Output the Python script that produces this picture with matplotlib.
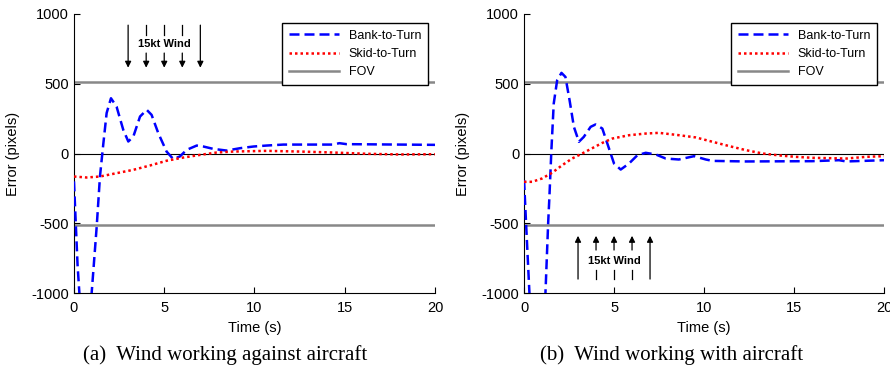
import matplotlib as mpl

mpl.use("Agg")

import matplotlib.pyplot as plt

plt.rcParams["font.family"] = ["Liberation Sans", "DejaVu Sans"]
plt.rcParams["axes.unicode_minus"] = False

# (a) wind working against aircraft
t_bank_a = [0.0, 0.1, 0.2, 0.3, 0.6, 0.98, 1.26, 1.44, 1.63, 1.81, 2.05, 2.36, 2.73, 3.01,
            3.29, 3.66, 4.03, 4.30, 4.67, 5.13, 5.50, 5.87, 6.24, 6.80, 7.17, 7.72, 8.46,
            9.2, 9.94, 10.67, 11.6, 14.37, 14.7, 15.1, 20.0]
bank_a = [-200, -500, -800, -1000, -1200, -1000, -523, -165, 74, 290, 396, 336, 170, 86,
          122, 265, 313, 277, 146, 14, -40, -21, 26, 57, 50, 33, 21,
          38, 50, 57, 64, 64, 74, 67, 62]
t_skid_a = [0.0, 0.7, 1.44, 2.36, 3.29, 4.21, 5.13, 6.06, 6.98, 7.9, 8.83, 10.67, 12.5,
            14.37, 16.2, 18.06, 20.0]
skid_a = [-165, -172, -165, -141, -117, -86, -52, -29, -10, 7, 14, 19, 14,
          7, -2, -7, -5]

# (b) wind working with aircraft
t_bank_b = [0.0, 0.15, 0.3, 0.7, 1.19, 1.34, 1.41, 1.52, 1.65, 1.84, 2.08, 2.30, 2.53, 2.77,
            3.05, 3.32, 3.70, 3.97, 4.35, 4.72, 5.0, 5.37, 5.83, 6.30, 6.76, 7.32, 7.87,
            8.6, 9.45, 10.1, 10.47, 12.33, 16.0, 17.5, 17.9, 20.0]
bank_b = [-190, -600, -1000, -1200, -1000, -500, -310, 24, 358, 525, 578, 549, 382, 191,
          84, 119, 191, 208, 179, 36, -72, -115, -72, -12, 5, -7, -36,
          -43, -19, -43, -53, -57, -55, -48, -57, -48]
t_skid_b = [0.0, 0.45, 1.0, 1.56, 2.12, 2.67, 3.23, 3.79, 4.35, 4.9, 5.83, 6.76, 7.5,
            8.62, 9.55, 10.47, 11.4, 12.33, 13.26, 14.19, 15.1, 16.04, 17.9, 19.0, 20.0]
skid_b = [-203, -203, -179, -138, -84, -36, 0, 38, 76, 107, 131, 143, 148,
          131, 115, 84, 53, 24, 0, -14, -24, -31, -36, -24, -19]

fov = 515
wind_times = [3, 4, 5, 6, 7]
x_ticks = [0, 5, 10, 15, 20]
y_ticks = [-1000, -500, 0, 500, 1000]


def draw_wind(ax, down):
    if down:
        top, tick_end, seg_start, head, text_y = 920, 850, 720, 615, 785
    else:
        top, tick_end, seg_start, head, text_y = -900, -835, -692, -590, -770
    for i, t in enumerate(wind_times):
        long = i in (0, len(wind_times) - 1)
        start = top if long else seg_start
        if not long:
            ax.plot([t, t], [top, tick_end], color="black", lw=0.9)
        ax.annotate("", xy=(t, head), xytext=(t, start),
                    arrowprops=dict(arrowstyle="-|>", lw=0.9, color="black",
                                    mutation_scale=9, shrinkA=0, shrinkB=0))
    ax.text(5, text_y, "15kt Wind", fontsize=8, fontweight="bold",
            ha="center", va="center")


def draw_panel(ax, t_bank, bank, t_skid, skid, down):
    ax.axhline(0, color="black", lw=0.8, zorder=1)
    ax.plot(t_bank, bank, color="#0000ff", ls=(0, (4, 2)), lw=1.8, label="Bank-to-Turn", zorder=3)
    ax.plot(t_skid, skid, color="#ff0000", ls=(0, (1, 1.2)), lw=1.8, label="Skid-to-Turn", zorder=3)
    ax.axhline(fov, color="#888888", lw=1.8, label="FOV", zorder=2)
    ax.axhline(-fov, color="#888888", lw=1.8, zorder=2)
    draw_wind(ax, down)

    ax.set_xlim(0, 20)
    ax.set_ylim(-1000, 1000)
    ax.set_xticks(x_ticks)
    ax.set_yticks(y_ticks)
    ax.tick_params(direction="in", length=4, labelsize=10.5, width=0.8)
    ax.tick_params(axis="x", pad=6)
    for side in ("top", "right"):
        ax.spines[side].set_visible(False)
    ax.set_xlabel("Time (s)", fontsize=10.5, labelpad=4)
    ax.set_ylabel("Error (pixels)", fontsize=10.5, labelpad=8)

    leg = ax.legend(loc="upper right", bbox_to_anchor=(0.981, 0.968), borderaxespad=0,
                    fontsize=9, fancybox=False, framealpha=1, edgecolor="black",
                    handlelength=4.0, borderpad=0.55, labelspacing=0.5)
    leg.get_frame().set_linewidth(1.0)


fig = plt.figure(figsize=(8.9, 3.71), dpi=100)
ax1 = fig.add_axes([0.0831, 0.2102, 0.4057, 0.7521])
ax2 = fig.add_axes([0.5888, 0.2102, 0.4045, 0.7521])

draw_panel(ax1, t_bank_a, bank_a, t_skid_a, skid_a, True)
draw_panel(ax2, t_bank_b, bank_b, t_skid_b, skid_b, False)

captions = ["(a)  Wind working against aircraft", "(b)  Wind working with aircraft"]
for xc, caption in zip([0.253, 0.755], captions):
    fig.text(xc, 0.043, caption, ha="center", va="center", fontsize=15,
             family=["Liberation Serif", "DejaVu Serif"])

fig.savefig("out.png", dpi=100)
